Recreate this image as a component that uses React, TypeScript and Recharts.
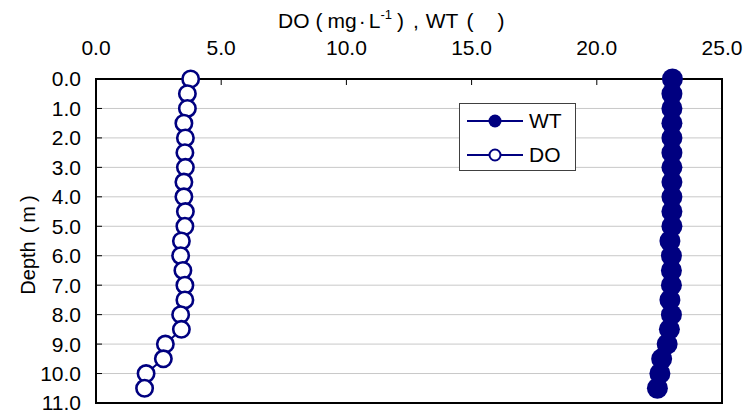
import React from 'react';
import { ScatterChart, Scatter, XAxis, YAxis, CartesianGrid, ReferenceArea } from 'recharts';

const depths = [0, 0.5, 1, 1.5, 2, 2.5, 3, 3.5, 4, 4.5, 5, 5.5, 6, 6.5, 7, 7.5, 8, 8.5, 9, 9.5, 10, 10.5];
const wtValues = [23.02, 23.0, 23.0, 23.0, 23.0, 23.0, 23.0, 23.0, 23.0, 23.0, 23.0, 22.92, 22.98, 22.98, 22.98, 22.92, 22.98, 22.9, 22.81, 22.59, 22.52, 22.42];
const doValues = [3.78, 3.65, 3.65, 3.51, 3.57, 3.55, 3.57, 3.51, 3.51, 3.57, 3.55, 3.41, 3.38, 3.47, 3.55, 3.55, 3.38, 3.41, 2.77, 2.69, 2.0, 1.94];
const xTicks = [0, 5, 10, 15, 20, 25];
const yTicks = [0, 1, 2, 3, 4, 5, 6, 7, 8, 9, 10, 11];

const NAVY = '#000080';
const FONT = '"Liberation Sans", Arial, sans-serif';

const wtData = depths.map((d, i) => ({ x: wtValues[i], y: d }));
const doData = depths.map((d, i) => ({ x: doValues[i], y: d }));

const WtDot = (p: any) => <circle cx={p.cx} cy={p.cy} r={10.5} fill={NAVY} stroke="none" />;
const DoDot = (p: any) => <circle cx={p.cx} cy={p.cy} r={8.2} fill="#fff" stroke={NAVY} strokeWidth={2.6} />;

const Title = (props: any) => {
  const vb = props.viewBox || { x: 96, width: 626 };
  const x0 = vb.x + vb.width / 2 - 131;
  return (
    <text x={x0} y={28} fontSize={21} fontFamily={FONT} fill="#000">
      <tspan>DO</tspan>
      <tspan dx={6}>(</tspan>
      <tspan dx={5}>mg</tspan>
      <tspan dx={2}>·</tspan>
      <tspan dx={3}>L</tspan>
      <tspan dy={-9} fontSize={13}>-1</tspan>
      <tspan dy={9} dx={5}>)</tspan>
      <tspan dx={9}>,</tspan>
      <tspan dx={7}>WT</tspan>
      <tspan dx={8}>(</tspan>
      <tspan dx={24}>)</tspan>
    </text>
  );
};

const DepthLabel = (props: any) => {
  const vb = props.viewBox || { y: 79, height: 324 };
  const cy = vb.y + vb.height / 2 + 4;
  return (
    <text x={0} y={0} transform={`translate(35, ${cy}) rotate(-90)`} textAnchor="middle" fontSize={20} fontFamily={FONT} fill="#000">
      <tspan>Depth</tspan>
      <tspan dx={8}>(</tspan>
      <tspan dx={4}>m</tspan>
      <tspan dx={4}>)</tspan>
    </text>
  );
};

const LegendBox = () => (
  <div style={{ position: 'absolute', left: 459, top: 103, width: 115, height: 66, border: '1px solid #404040', background: '#fff', boxSizing: 'content-box' }}>
    <svg width={115} height={66} style={{ display: 'block' }}>
      <line x1={7} x2={63} y1={17} y2={17} stroke={NAVY} strokeWidth={2} />
      <circle cx={35} cy={17} r={6.5} fill={NAVY} />
      <text x={69} y={24} fontSize={21} fontFamily={FONT} fill="#000">WT</text>
      <line x1={7} x2={63} y1={51} y2={51} stroke={NAVY} strokeWidth={2} />
      <circle cx={35} cy={51} r={5.5} fill="#fff" stroke={NAVY} strokeWidth={2} />
      <text x={69} y={58} fontSize={21} fontFamily={FONT} fill="#000">DO</text>
    </svg>
  </div>
);

export default function App() {
  const fmt = (v: number) => v.toFixed(1);
  return (
    <div style={{ position: 'absolute', left: 0, top: 0, width: 756, height: 412, background: '#fff' }}>
      <ScatterChart width={756} height={412} margin={{ top: 19, right: 34, bottom: 9, left: 0 }} style={{ fontFamily: FONT }}>
        <CartesianGrid vertical={false} horizontal={true} stroke="#c8c8c8" strokeWidth={1} />
        <XAxis
          type="number"
          dataKey="x"
          orientation="top"
          domain={[0, 25]}
          ticks={xTicks}
          tickFormatter={fmt}
          height={60}
          axisLine={{ stroke: '#000', strokeWidth: 2 }}
          tickLine={{ stroke: '#000', strokeWidth: 1 }}
          tickSize={-6}
          tickMargin={30}
          tick={{ fill: '#000', fontSize: 21, fontFamily: FONT }}
          label={{ content: (p: any) => <Title {...p} /> }}
        />
        <YAxis
          type="number"
          dataKey="y"
          reversed
          domain={[0, 11]}
          ticks={yTicks}
          tickFormatter={fmt}
          width={96}
          axisLine={{ stroke: '#000', strokeWidth: 2 }}
          tickLine={{ stroke: '#000', strokeWidth: 1 }}
          tickSize={-6}
          tickMargin={21}
          tick={{ fill: '#000', fontSize: 21, fontFamily: FONT }}
          label={{ content: (p: any) => <DepthLabel {...p} /> }}
          interval={0}
        />
        <ReferenceArea x1={0} x2={25} y1={0} y2={11} fill="none" stroke="#000" strokeWidth={2} ifOverflow="visible" />
        <Scatter data={wtData} name="WT" fill={NAVY} line={{ stroke: NAVY, strokeWidth: 2 }} lineType="joint" shape={WtDot} isAnimationActive={false} />
        <Scatter data={doData} name="DO" fill="#fff" line={{ stroke: NAVY, strokeWidth: 2 }} lineType="joint" shape={DoDot} isAnimationActive={false} />
      </ScatterChart>
      <LegendBox />
    </div>
  );
}
